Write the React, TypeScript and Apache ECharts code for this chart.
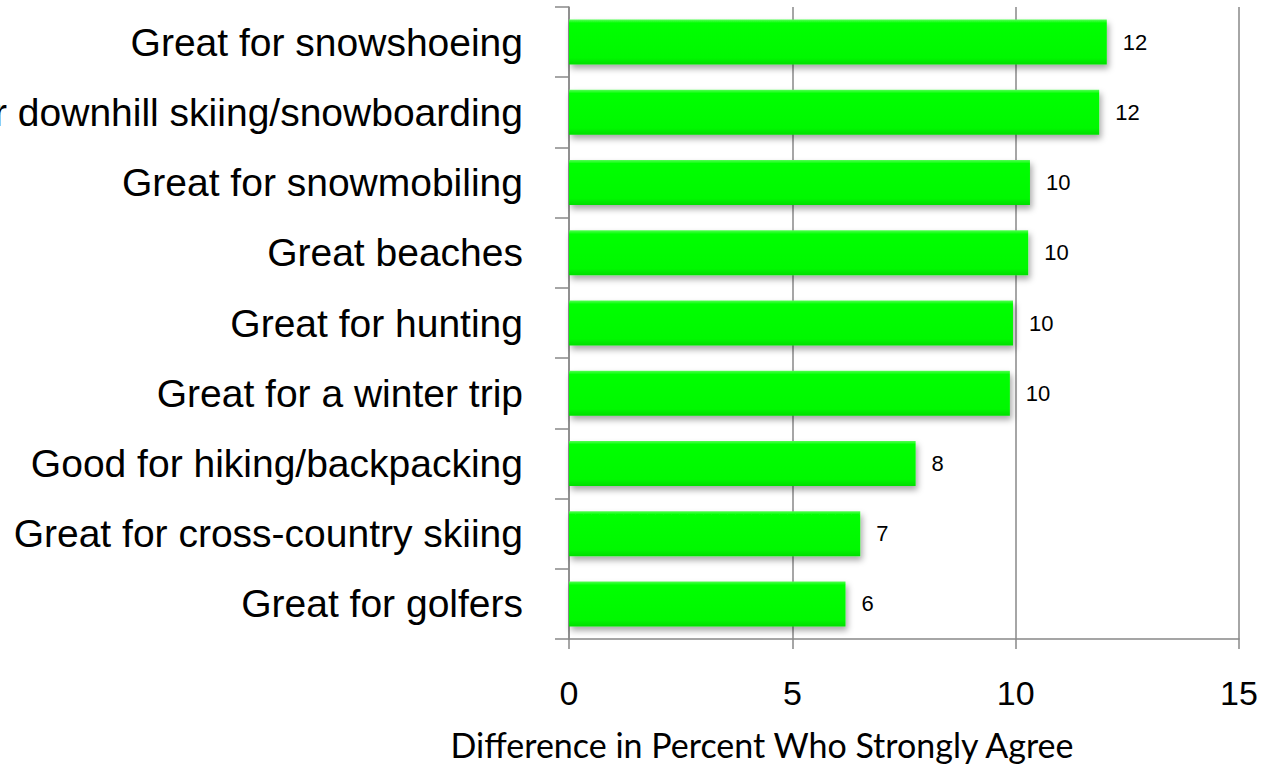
import React, { useEffect, useRef } from "react";
import * as echarts from "echarts";

const categories = [
  "Great for snowshoeing",
  "Great for downhill skiing/snowboarding",
  "Great for snowmobiling",
  "Great beaches",
  "Great for hunting",
  "Great for a winter trip",
  "Good for hiking/backpacking",
  "Great for cross-country skiing",
  "Great for golfers",
];
const values = [12.04, 11.87, 10.32, 10.28, 9.94, 9.87, 7.76, 6.52, 6.19];
const xTicks = [0, 5, 10, 15];
const axisTitle = "Difference in Percent Who Strongly Agree";

export default function App() {
  const ref = useRef<HTMLDivElement>(null);
  useEffect(() => {
    document.body.style.margin = "0";
    const chart = echarts.init(ref.current!, null, { renderer: "svg" });
    const gray = "#888888";
    chart.setOption({
      animation: false,
      title: {
        text: axisTitle,
        left: 762,
        top: 727,
        textAlign: "center",
        padding: 0,
        textStyle: { fontFamily: "Lato", fontSize: 34, fontWeight: "normal", color: "#000" },
      },
      grid: {
        left: 569,
        right: 29,
        top: 7,
        bottom: 132,
        containLabel: false,
        outerBoundsMode: "none",
      },
      xAxis: {
        type: "value",
        min: xTicks[0],
        max: xTicks[xTicks.length - 1],
        interval: 5,
        axisLine: { show: true, lineStyle: { color: gray, width: 1.5 } },
        axisTick: { show: true, length: 10, lineStyle: { color: gray, width: 1.5 } },
        splitLine: { show: true, lineStyle: { color: gray, width: 1.5 } },
        axisLabel: {
          margin: 37,
          fontFamily: "Liberation Sans",
          fontSize: 34,
          color: "#000",
        },
      },
      yAxis: {
        type: "category",
        data: categories,
        inverse: true,
        axisLine: { show: true, lineStyle: { color: gray, width: 1.5 } },
        axisTick: { show: true, length: 14, lineStyle: { color: gray, width: 1.5 } },
        axisLabel: {
          margin: 46,
          fontFamily: "Liberation Sans",
          fontSize: 39,
          color: "#000",
        },
      },
      series: [
        {
          type: "bar",
          data: values,
          barWidth: 45,
          itemStyle: {
            color: {
              type: "linear",
              x: 0,
              y: 0,
              x2: 0,
              y2: 1,
              colorStops: [
                { offset: 0, color: "#55ff55" },
                { offset: 0.08, color: "#00ff00" },
                { offset: 0.85, color: "#00f800" },
                { offset: 1, color: "#00dd00" },
              ],
            },
            shadowColor: "rgba(0,0,0,0.35)",
            shadowBlur: 6,
            shadowOffsetX: 2,
            shadowOffsetY: 4,
          },
          label: {
            show: true,
            position: "right",
            distance: 16,
            fontFamily: "Liberation Sans",
            fontSize: 22,
            color: "#000",
            formatter: (p: any) => String(Math.round(p.value)),
          },
        },
      ],
    });
    return () => chart.dispose();
  }, []);
  return <div ref={ref} style={{ width: 1268, height: 771 }} />;
}
